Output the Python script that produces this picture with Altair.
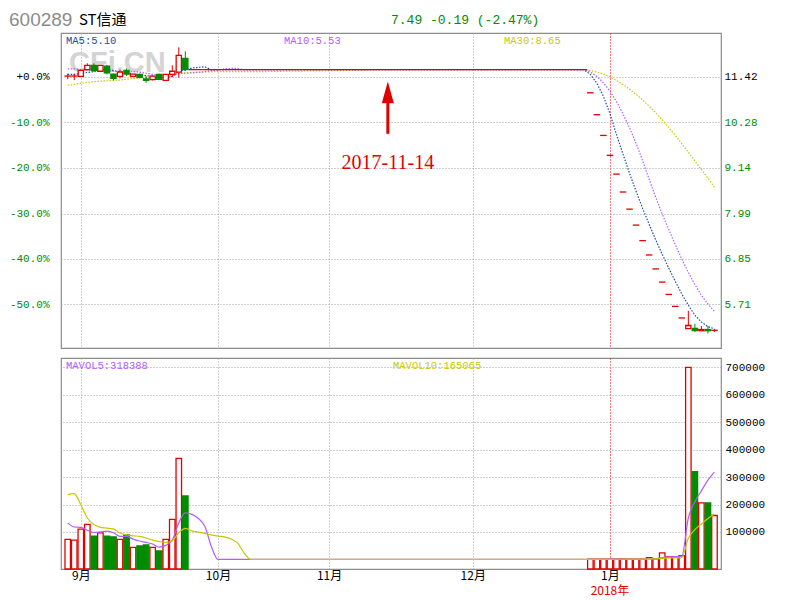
import altair as alt
import pandas as pd

# ---------------- data ----------------
BASE_PRICE = 11.42
PRICE_TICKS = [11.42, 10.28, 9.14, 7.99, 6.85, 5.71]
VOL_TICKS = [100000, 200000, 300000, 400000, 500000, 600000, 700000]
MONTH_DAYS = [2, 23, 40, 62, 83]
MONTH_LABELS = ["9月", "10月", "11月", "12月", "1月"]
YEAR_DAY = 83
YEAR_LABEL = "2018年"

TRADE_DAYS = [0, 1, 2, 3, 4, 5, 6, 7, 8, 9, 10, 11, 12, 13, 14, 15, 16, 17, 18,
              80, 81, 82, 83, 84, 85, 86, 87, 88, 89, 90, 91, 92, 93, 94, 95, 96, 97, 98, 99]
OPEN = [11.44, 11.44, 11.43, 11.60, 11.71, 11.56, 11.69, 11.49, 11.43, 11.58, 11.43, 11.48, 11.37, 11.35,
        11.48, 11.33, 11.48, 11.54, 11.88,
        11.02, 10.47, 9.95, 9.45, 8.98, 8.53, 8.10, 7.70, 7.31, 6.95, 6.60, 6.27, 5.96, 5.66, 5.37,
        5.10, 5.11, 5.05, 5.08, 5.06]
HIGH = [11.50, 11.50, 11.60, 11.76, 11.76, 11.71, 11.72, 11.50, 11.60, 11.63, 11.50, 11.50, 11.44, 11.46,
        11.50, 11.49, 11.71, 12.16, 12.06,
        11.02, 10.47, 9.95, 9.45, 8.98, 8.53, 8.10, 7.70, 7.31, 6.95, 6.60, 6.27, 5.96, 5.66, 5.37,
        5.55, 5.22, 5.17, 5.17, 5.09]
LOW = [11.36, 11.34, 11.42, 11.58, 11.55, 11.54, 11.48, 11.33, 11.38, 11.44, 11.41, 11.40, 11.27, 11.33,
       11.34, 11.33, 11.41, 11.40, 11.58,
       11.02, 10.47, 9.95, 9.45, 8.98, 8.53, 8.10, 7.70, 7.31, 6.95, 6.60, 6.27, 5.96, 5.66, 5.37,
       5.10, 5.02, 5.05, 4.98, 5.02]
CLOSE = [11.44, 11.44, 11.58, 11.71, 11.58, 11.71, 11.52, 11.38, 11.54, 11.49, 11.49, 11.41, 11.33, 11.44,
         11.36, 11.48, 11.56, 11.96, 11.60,
         11.02, 10.47, 9.95, 9.45, 8.98, 8.53, 8.10, 7.70, 7.31, 6.95, 6.60, 6.27, 5.96, 5.66, 5.37,
         5.18, 5.05, 5.08, 5.05, 5.06]
VOLUME = [73000, 70000, 110000, 128000, 85000, 97000, 85000, 82000, 73000, 89000, 44000, 49000, 53000,
          44000, 31000, 73000, 146000, 368000, 231000,
          1000, 1000, 1000, 1000, 1000, 1500, 1000, 1000, 1000, 6000, 2000, 24000, 9000, 9000, 14000,
          700000, 320000, 206000, 206000, 160000]

# trading suspension: flat price over these days
SUSPEND_FIRST = 19
SUSPEND_LAST = 79
SUSPEND_PRICE = 11.60

MA5_DAYS = [0, 1, 2, 3, 4, 5, 6, 7, 8, 9, 10, 11, 12, 13, 14, 15, 16, 17, 18, 19, 20, 21, 22,
            79, 80, 81, 82, 83, 84, 85, 86, 87, 88, 89, 90, 91, 92, 93, 94, 95, 96, 97, 98, 99]
MA5 = [11.48, 11.48, 11.50, 11.53, 11.55, 11.60, 11.62, 11.58, 11.55, 11.53, 11.48, 11.46, 11.45, 11.43,
       11.41, 11.40, 11.43, 11.56, 11.59, 11.64, 11.66, 11.67, 11.60,
       11.60, 11.48, 11.26, 10.93, 10.50, 9.97, 9.48, 9.00, 8.55, 8.12, 7.72, 7.33, 6.97, 6.62, 6.29,
       5.97, 5.69, 5.44, 5.27, 5.15, 5.10]
MA10_DAYS = [0, 1, 2, 3, 4, 5, 6, 7, 8, 9, 10, 11, 12, 13, 14, 15, 16, 17, 18, 19, 20, 21, 22, 23, 24,
             25, 26, 27, 28,
             79, 80, 81, 82, 83, 84, 85, 86, 87, 88, 89, 90, 91, 92, 93, 94, 95, 96, 97, 98, 99]
MA10 = [11.62, 11.62, 11.60, 11.59, 11.58, 11.58, 11.57, 11.56, 11.55, 11.54, 11.55, 11.54, 11.51, 11.48,
        11.46, 11.44, 11.44, 11.50, 11.51, 11.52, 11.53, 11.55, 11.58, 11.59, 11.62, 11.63, 11.63, 11.60,
        11.60,
        11.60, 11.54, 11.43, 11.27, 11.06, 10.80, 10.49, 10.14, 9.75, 9.32, 8.85, 8.40, 7.98, 7.59, 7.21,
        6.85, 6.51, 6.21, 5.94, 5.72, 5.53]
MA30_DAYS = [0, 1, 2, 3, 4, 5, 6, 7, 8, 9, 10, 11, 12, 13, 14, 15, 16, 17, 18, 19, 20, 21, 22, 23, 24,
             25, 26, 27, 28, 29, 33, 38, 43, 48,
             79, 80, 81, 82, 83, 84, 85, 86, 87, 88, 89, 90, 91, 92, 93, 94, 95, 96, 97, 98, 99]
MA30 = [11.21, 11.23, 11.26, 11.28, 11.30, 11.31, 11.32, 11.33, 11.34, 11.36, 11.38, 11.39, 11.40, 11.42,
        11.44, 11.46, 11.48, 11.50, 11.52, 11.53, 11.54, 11.54, 11.55, 11.55, 11.55, 11.55, 11.55, 11.55,
        11.55, 11.55, 11.56, 11.57, 11.58, 11.60,
        11.60, 11.58, 11.54, 11.49, 11.42, 11.33, 11.23, 11.11, 10.98, 10.84, 10.68, 10.52, 10.34, 10.15,
        9.95, 9.74, 9.53, 9.31, 9.09, 8.88, 8.65]

VMA_DAYS = [0, 1, 2, 3, 4, 5, 6, 7, 8, 9, 10, 11, 12, 13, 14, 15, 16, 17, 18, 19, 20, 21, 22, 23, 24,
            25, 26, 27, 28,
            79, 80, 81, 82, 83, 84, 85, 86, 87, 88, 89, 90, 91, 92, 93, 94, 95, 96, 97, 98, 99]
MAVOL5 = [133000, 118000, 117000, 106000, 98000, 100000, 103000, 97000, 84000, 84000, 74000, 67000, 62000,
          56000, 45000, 51000, 70000, 133000, 170000, 164000, 149000, 120000, 46000, 0, 0, 0, 0, 0, 0,
          0, 200, 400, 600, 800, 1000, 1100, 1100, 1100, 1100, 2100, 2200, 6800, 8400, 10000, 11600,
          151200, 210400, 249800, 289200, 318388]
MAVOL10 = [236000, 240000, 199000, 151000, 127000, 117000, 114000, 111000, 96000, 89000, 86000, 84000,
           78000, 70000, 65000, 62000, 68000, 97000, 113000, 104000, 99500, 94600, 89300, 84900, 81800,
           74500, 59900, 23100, 0,
           0, 100, 200, 300, 400, 500, 650, 750, 850, 950, 1550, 1650, 3950, 4750, 5550, 6800, 76700,
           108600, 129100, 149100, 165065]

ANNOT_DAY = 49
ANNOT_LABEL = "2017-11-14"
ANNOT_TIP = 11.03
ANNOT_SHAFT_TOP = 10.84
ANNOT_SHAFT_BOTTOM = 9.99
ANNOT_TEXT_PRICE = 9.26

HEADER_CODE = "600289"
HEADER_NAME = "ST信通"
HEADER_QUOTE = "7.49 -0.19 (-2.47%)"
LEG_MA5 = "MA5:5.10"
LEG_MA10 = "MA10:5.53"
LEG_MA30 = "MA30:8.65"
LEG_VOL5 = "MAVOL5:318388"
LEG_VOL10 = "MAVOL10:165065"
WATERMARK = "CFi.CN"

# ---------------- style ----------------
RED = "#e00000"
GREEN = "#008c00"
GRID = "#a0a0a0"
MA5_C = "#1d4f9e"
MA10_C = "#b05cff"
MA30_C = "#c9c900"
MONO = "Liberation Mono"
CJK = "Noto Sans CJK SC"

W = 660
H1 = 315
H2 = 211
X_DOMAIN = [-1.03, 100.0]
P_DOMAIN = [4.616, 12.52]
V_DOMAIN = [-35000, 734000]
V_FLOOR = -35000

X_SCALE = alt.Scale(domain=X_DOMAIN, nice=False, zero=False)
P_SCALE = alt.Scale(domain=P_DOMAIN, nice=False, zero=False)
V_SCALE = alt.Scale(domain=V_DOMAIN, nice=False, zero=False)
STROKE_SCALE = alt.Scale(domain=["up", "down", "flat"], range=[RED, GREEN, RED])
FILL_SCALE = alt.Scale(domain=["up", "down", "flat"], range=["#ffffff", GREEN, "#ffffff"])

cdf = pd.DataFrame({"day": TRADE_DAYS, "open": OPEN, "high": HIGH, "low": LOW,
                    "close": CLOSE, "volume": VOLUME})
sdf = pd.DataFrame({"first": [SUSPEND_FIRST], "last": [SUSPEND_LAST], "price": [SUSPEND_PRICE]})
ma5df = pd.DataFrame({"day": MA5_DAYS, "value": MA5})
ma10df = pd.DataFrame({"day": MA10_DAYS, "value": MA10})
ma30df = pd.DataFrame({"day": MA30_DAYS, "value": MA30})
v5df = pd.DataFrame({"day": VMA_DAYS, "value": MAVOL5})
v10df = pd.DataFrame({"day": VMA_DAYS, "value": MAVOL10})
adf = pd.DataFrame({"day": [ANNOT_DAY], "label": [ANNOT_LABEL], "tip": [ANNOT_TIP],
                    "s0": [ANNOT_SHAFT_TOP], "s1": [ANNOT_SHAFT_BOTTOM], "ty": [ANNOT_TEXT_PRICE]})

DIR = "datum.close > datum.open ? 'up' : (datum.close < datum.open ? 'down' : 'flat')"
grid_color = {"condition": {"test": f"datum.value == {YEAR_DAY}", "value": RED}, "value": GRID}
price_label_color = {"condition": {"test": f"datum.value > {BASE_PRICE - 0.02}", "value": "black"},
                     "value": GREEN}

top_x_axis = alt.Axis(values=MONTH_DAYS, labels=False, ticks=False, domain=False, grid=True,
                      gridColor=grid_color, gridDash=[1, 2], gridWidth=1, title=None,
                      minExtent=0, maxExtent=0)
left_axis = alt.Axis(orient="left", values=PRICE_TICKS,
                     labelExpr=(f"datum.value > {BASE_PRICE - 0.02} ? '+0.0%' : "
                                f"'-' + format(100 - datum.value / {BASE_PRICE} * 100, '.1f') + '%'"),
                     labelColor=price_label_color, labelFont=MONO, labelFontSize=11,
                     labelPadding=12, ticks=False, domain=False, grid=True, gridColor=GRID,
                     gridDash=[1, 2], gridWidth=1, title=None)
right_axis = alt.Axis(orient="right", values=PRICE_TICKS, format=".2f", labelColor=price_label_color,
                      labelFont=MONO, labelFontSize=11, labelPadding=3, ticks=False, domain=False,
                      grid=False, title=None)


def tx(field):
    return alt.X(field, type="quantitative", scale=X_SCALE, axis=top_x_axis)


def py(field, axis=None):
    return alt.Y(field, type="quantitative", scale=P_SCALE, axis=axis)


def txt(s, x, y, color, font=MONO, size=10.5, weight="normal", align="left"):
    return alt.Chart(pd.DataFrame({"t": [s]})).mark_text(
        font=font, fontSize=size, fontWeight=weight, color=color, align=align, baseline="middle"
    ).encode(text="t:N", x=alt.value(x), y=alt.value(y))


cbase = alt.Chart(cdf).transform_calculate(dir=DIR)

watermark = txt(WATERMARK, 8, 30, "#d4d4d4", font="Liberation Sans", size=29, weight="bold")

ma30 = alt.Chart(ma30df).mark_line(color=MA30_C, strokeWidth=1.2, strokeDash=[1.5, 1.5]).encode(
    x=tx("day"), y=py("value"))
ma10 = alt.Chart(ma10df).mark_line(color=MA10_C, strokeWidth=1.2, strokeDash=[1.5, 1.5]).encode(
    x=tx("day"), y=py("value"))
ma5 = alt.Chart(ma5df).mark_line(color=MA5_C, strokeWidth=1.2, strokeDash=[1.5, 1.5]).encode(
    x=tx("day"), y=py("value"))

suspended = alt.Chart(sdf).transform_calculate(
    xa="datum.first - 0.5", xb="datum.last + 0.5"
).mark_rule(color=RED, strokeWidth=1.3).encode(
    x=tx("xa"), x2="xb", y=py("price", right_axis))

wicks = cbase.transform_filter("datum.high > datum.low").mark_rule(strokeWidth=1).encode(
    x=tx("day"), y=py("low", left_axis), y2="high",
    stroke=alt.Stroke("dir:N", scale=STROKE_SCALE, legend=None))

bodies = cbase.transform_filter("datum.dir != 'flat'").transform_calculate(
    x0="datum.day - 0.4", x1="datum.day + 0.4"
).mark_rect(strokeWidth=1.3).encode(
    x=tx("x0"), x2="x1", y=py("open"), y2="close",
    stroke=alt.Stroke("dir:N", scale=STROKE_SCALE, legend=None),
    fill=alt.Fill("dir:N", scale=FILL_SCALE, legend=None))

flats = cbase.transform_filter("datum.dir == 'flat'").transform_calculate(
    xa="datum.day - 0.5", xb="datum.day + 0.5"
).mark_rule(strokeWidth=1.3).encode(
    x=tx("xa"), x2="xb", y=py("close"),
    stroke=alt.Stroke("dir:N", scale=STROKE_SCALE, legend=None))

arrow_shaft = alt.Chart(adf).mark_rule(color=RED, strokeWidth=3).encode(
    x=tx("day"), y=py("s0"), y2="s1")
arrow_head = alt.Chart(adf).mark_point(
    shape="M0,-1L0.55,1L-0.55,1Z", filled=True, size=480, color=RED, opacity=1
).encode(x=tx("day"), y=py("tip"))
arrow_text = alt.Chart(adf).mark_text(
    font="Liberation Serif", fontSize=20, color=RED, align="center", baseline="middle"
).encode(x=tx("day"), y=py("ty"), text="label:N")

top = alt.layer(
    watermark, ma30, ma10, ma5, suspended, wicks, bodies, flats,
    arrow_shaft, arrow_head, arrow_text,
    txt(HEADER_CODE, -52, -13, "#8c8c8c", font="Liberation Sans", size=19),
    txt(HEADER_NAME, 18, -13, "black", font=CJK, size=15),
    txt(HEADER_QUOTE, 330, -13, GREEN, font=MONO, size=13),
    txt(LEG_MA5, 5, 7.5, MA5_C),
    txt(LEG_MA10, 223, 7.5, MA10_C),
    txt(LEG_MA30, 443, 7.5, MA30_C),
).properties(width=W, height=H1).resolve_scale(y="independent")

# ---------------- volume panel ----------------
month_expr = " : ".join(
    f"datum.value == {d} ? '{m}'" for d, m in zip(MONTH_DAYS, MONTH_LABELS)) + " : ''"
bot_x_axis = alt.Axis(values=MONTH_DAYS, labelExpr=month_expr, labelFont=CJK, labelFontSize=12,
                      labelColor="black", labelPadding=1, labelFlush=False, labelOverlap=False,
                      ticks=False, domain=False, grid=True, gridColor=grid_color, gridDash=[1, 2],
                      gridWidth=1, title=None)
vol_axis = alt.Axis(orient="right", values=VOL_TICKS, format="d", labelFont=MONO, labelFontSize=11,
                    labelColor="black", labelPadding=4, ticks=False, domain=False, grid=True,
                    gridColor=GRID, gridDash=[1, 2], gridWidth=1, title=None)


def bx(field):
    return alt.X(field, type="quantitative", scale=X_SCALE, axis=bot_x_axis)


def vy(field):
    return alt.Y(field, type="quantitative", scale=V_SCALE, axis=vol_axis)


vbars = cbase.transform_calculate(
    x0="datum.day - 0.42", x1="datum.day + 0.42"
).mark_rect(strokeWidth=1.3).encode(
    x=bx("x0"), x2="x1",
    y=vy("volume"), y2=alt.Y2(datum=V_FLOOR),
    stroke=alt.Stroke("dir:N", scale=STROKE_SCALE, legend=None),
    fill=alt.Fill("dir:N", scale=FILL_SCALE, legend=None))

v5 = alt.Chart(v5df).mark_line(color=MA10_C, strokeWidth=1.2, interpolate="monotone").encode(
    x=bx("day"), y=vy("value"))
v10 = alt.Chart(v10df).mark_line(color=MA30_C, strokeWidth=1.2, interpolate="monotone").encode(
    x=bx("day"), y=vy("value"))

year_text = alt.Chart(pd.DataFrame({"day": [YEAR_DAY], "t": [YEAR_LABEL]})).mark_text(
    font=CJK, fontSize=12, color=RED, align="center", baseline="middle"
).encode(x=bx("day"), y=alt.value(H2 + 22), text="t:N")

bottom = alt.layer(
    vbars, v5, v10, year_text,
    txt(LEG_VOL5, 5, 8, MA10_C),
    txt(LEG_VOL10, 332, 8, MA30_C),
).properties(width=W, height=H2)

chart = alt.vconcat(top, bottom, spacing=10, bounds="flush").properties(
    padding={"left": 0, "top": 2, "right": 4, "bottom": 0},
    background="white",
).configure_view(stroke="#8c8c8c", strokeWidth=1.2)

chart.save("out.html", embed_options={"renderer": "svg", "actions": False})
